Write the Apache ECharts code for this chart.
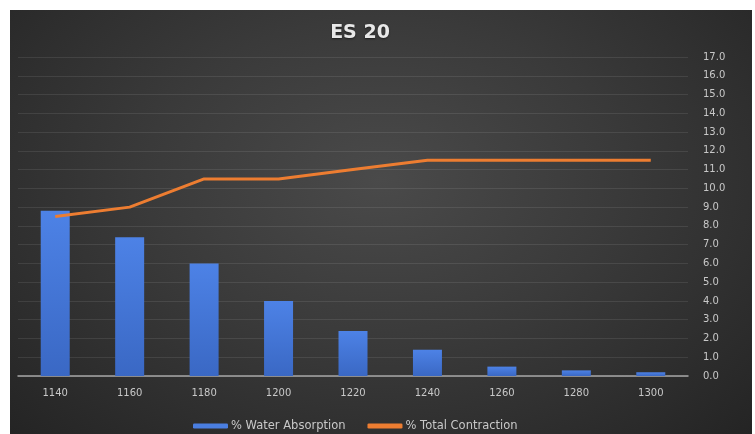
<!DOCTYPE html>
<html>
<head>
<meta charset="utf-8">
<script src="https://cdn.jsdelivr.net/npm/echarts@6/dist/echarts.min.js"></script>
<style>
html,body{margin:0;padding:0;background:#fff;}
#wrap{position:relative;width:755px;height:434px;overflow:hidden;}
#bg{position:absolute;left:10px;top:10px;width:742px;height:424px;
background:radial-gradient(ellipse at 50% 40%, #4a4a4a 0%, #3a3a3a 45%, #2a2a2a 85%, #242424 100%);}
#chart{position:absolute;left:0;top:0;width:755px;height:434px;}
</style>
</head>
<body>
<div id="wrap"><div id="bg"></div><div id="chart"></div></div>
<script>
const categories = ['1140','1160','1180','1200','1220','1240','1260','1280','1300'];
const waterAbsorption = [8.8, 7.4, 6.0, 4.0, 2.4, 1.4, 0.5, 0.3, 0.2];
const totalContraction = [8.5, 9.0, 10.5, 10.5, 11.0, 11.5, 11.5, 11.5, 11.5];
const yMin = 0, yMax = 17, yStep = 1;

const chart = echarts.init(document.getElementById('chart'), null, {renderer:'canvas'});
chart.setOption({
  backgroundColor: 'transparent',
  animation: false,
  title: {
    text: 'ES 20', left: 355, top: 19, textAlign: 'center',
    textStyle: {color: '#e8e8e8', fontSize: 19, fontWeight: 'bold', fontFamily: 'DejaVu Sans',
      textShadowColor: 'rgba(0,0,0,0.5)', textShadowBlur: 2, textShadowOffsetY: 1}
  },
  legend: {
    top: 415, left: 188,
    itemWidth: 35, itemHeight: 5, itemGap: 22,
    textStyle: {color: '#c8c8c8', fontSize: 11.5, fontFamily: 'DejaVu Sans', padding: [0,0,0,-2]},
    data: [
      {name: '% Water Absorption', icon: 'roundRect', itemStyle: {color: '#4a7ee0'}},
      {name: '% Total Contraction', icon: 'roundRect', itemStyle: {color: '#ed7d31'}}
    ]
  },
  grid: {left: 18, right: 67, top: 57, bottom: 58},
  xAxis: {
    type: 'category', data: categories,
    axisLine: {lineStyle: {color: '#a6a6a6', width: 1.5}},
    axisTick: {show: false},
    axisLabel: {color: '#c8c8c8', fontSize: 10, margin: 12, fontFamily: 'DejaVu Sans'}
  },
  yAxis: {
    type: 'value', position: 'right', min: yMin, max: yMax, interval: yStep,
    axisLine: {show: false}, axisTick: {show: false},
    axisLabel: {color: '#c8c8c8', fontSize: 10, margin: 15, fontFamily: 'DejaVu Sans',
      formatter: v => v.toFixed(1)},
    splitLine: {lineStyle: {color: 'rgba(255,255,255,0.09)', width: 1}}
  },
  series: [
    {
      name: '% Water Absorption', type: 'bar', data: waterAbsorption, barWidth: 29,
      itemStyle: {color: new echarts.graphic.LinearGradient(0,0,0,1,[
        {offset:0, color:'#4d82e6'}, {offset:1, color:'#3a68c4'}])}
    },
    {
      name: '% Total Contraction', type: 'line', data: totalContraction,
      symbol: 'none', lineStyle: {color: '#ed7d31', width: 3},
      itemStyle: {color: '#ed7d31'}
    }
  ]
});
</script>
</body>
</html>
